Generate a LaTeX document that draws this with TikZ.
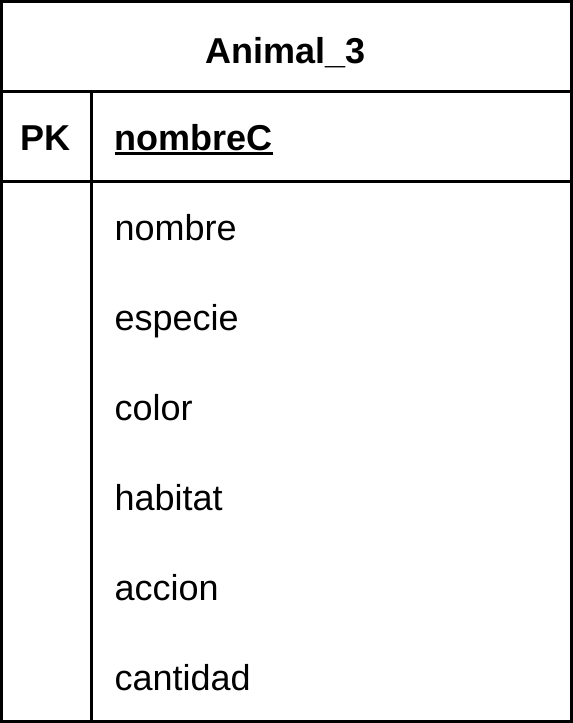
\documentclass[tikz,border=0pt]{standalone}
\usepackage{fontspec}
\setmainfont{Liberation Sans}
\begin{document}
\begin{tikzpicture}[x=1pt,y=-1pt,
  frame/.style={draw=black,line width=3pt},
  txt/.style={inner sep=0pt,outer sep=0pt,font=\fontsize{36}{40}\selectfont},
  attr/.style={txt,anchor=base west},
  bold/.style={txt,font=\fontsize{36}{40}\selectfont\bfseries}]
\useasboundingbox (0,0) rectangle (573,723);
\draw[frame] (1.5,1.5) rectangle (571.5,721.5);
\draw[frame] (1.5,91.5) -- (571.5,91.5);
\draw[frame] (1.5,181.5) -- (571.5,181.5);
\draw[frame] (91,91.5) -- (91,721.5);
\node[bold,anchor=base] (title) at (285.5,63) {Animal\_3};
\node[bold,anchor=base] (pk) at (45.5,150) {PK};
\node[bold,anchor=base west] (key) at (114.5,150) {nombreC};
\draw[line width=2.5pt] ([yshift=-3.5pt]key.base west) -- ([yshift=-3.5pt]key.base east);
\node[attr] (a1) at (114.5,240) {nombre};
\node[attr] (a2) at (114.5,330) {especie};
\node[attr] (a3) at (114.5,420) {color};
\node[attr] (a4) at (114.5,510) {habitat};
\node[attr] (a5) at (114.5,600) {accion};
\node[attr] (a6) at (114.5,690) {cantidad};
\end{tikzpicture}
\end{document}
